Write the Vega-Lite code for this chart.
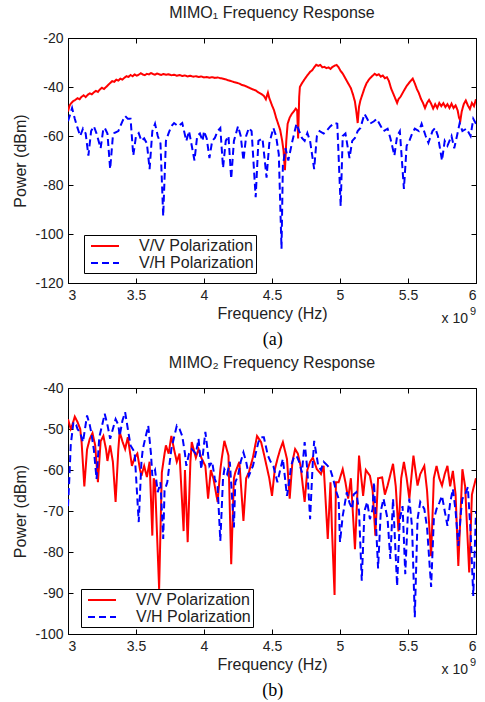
{
"$schema": "https://vega.github.io/schema/vega-lite/v6.json",
"background": "white",
"padding": {"left": 12, "top": 4, "right": 2, "bottom": 2},
"spacing": 5,
"config": {
  "font": "Liberation Sans",
  "view": {"stroke": "black", "strokeWidth": 1},
  "axis": {"grid": false, "domainColor": "black", "tickColor": "black", "tickSize": -5, "labelPadding": 10, "labelFont": "Liberation Sans", "labelFontSize": 14, "labelColor": "#222", "titleFont": "Liberation Sans", "titleFontSize": 16, "titleFontWeight": "normal", "titleColor": "#222", "titlePadding": 6},
  "axisX": {"titlePadding": 3},
  "title": {"font": "Liberation Sans", "fontSize": 16, "fontWeight": "normal", "color": "#222"},
  "legend": {"strokeColor": "black", "fillColor": "white", "padding": 2, "labelFont": "Liberation Sans", "labelFontSize": 16, "labelColor": "#222", "symbolType": "M-1.75,0H1.75", "symbolSize": 256, "symbolStrokeWidth": 2, "symbolOffset": 10, "labelOffset": 25, "rowPadding": -1, "labelExpr": "datum.label + '   '"}
},
"resolve": {"scale": {"color": "independent", "strokeDash": "independent"}, "legend": {"color": "independent", "strokeDash": "independent"}},
"datasets": {
"a": [
{"s":"V/V Polarization","f":3.000,"y":-50.0},{"s":"V/V Polarization","f":3.012,"y":-47.5},{"s":"V/V Polarization","f":3.025,"y":-46.5},{"s":"V/V Polarization","f":3.04,"y":-45.7},{"s":"V/V Polarization","f":3.055,"y":-45.2},{"s":"V/V Polarization","f":3.07,"y":-44.6},{"s":"V/V Polarization","f":3.085,"y":-45.0},{"s":"V/V Polarization","f":3.10,"y":-44.0},{"s":"V/V Polarization","f":3.115,"y":-43.4},{"s":"V/V Polarization","f":3.13,"y":-44.1},{"s":"V/V Polarization","f":3.145,"y":-43.2},{"s":"V/V Polarization","f":3.16,"y":-42.6},{"s":"V/V Polarization","f":3.175,"y":-43.0},{"s":"V/V Polarization","f":3.19,"y":-42.2},{"s":"V/V Polarization","f":3.205,"y":-41.6},{"s":"V/V Polarization","f":3.22,"y":-42.0},{"s":"V/V Polarization","f":3.235,"y":-41.0},{"s":"V/V Polarization","f":3.25,"y":-40.3},{"s":"V/V Polarization","f":3.265,"y":-40.8},{"s":"V/V Polarization","f":3.28,"y":-40.0},{"s":"V/V Polarization","f":3.295,"y":-39.2},{"s":"V/V Polarization","f":3.31,"y":-38.4},{"s":"V/V Polarization","f":3.325,"y":-37.6},{"s":"V/V Polarization","f":3.34,"y":-37.9},{"s":"V/V Polarization","f":3.355,"y":-37.0},{"s":"V/V Polarization","f":3.37,"y":-37.4},{"s":"V/V Polarization","f":3.385,"y":-36.6},{"s":"V/V Polarization","f":3.40,"y":-37.0},{"s":"V/V Polarization","f":3.415,"y":-36.2},{"s":"V/V Polarization","f":3.43,"y":-35.6},{"s":"V/V Polarization","f":3.445,"y":-35.9},{"s":"V/V Polarization","f":3.46,"y":-35.1},{"s":"V/V Polarization","f":3.475,"y":-35.6},{"s":"V/V Polarization","f":3.49,"y":-34.9},{"s":"V/V Polarization","f":3.505,"y":-35.4},{"s":"V/V Polarization","f":3.52,"y":-35.0},{"s":"V/V Polarization","f":3.535,"y":-34.4},{"s":"V/V Polarization","f":3.55,"y":-34.9},{"s":"V/V Polarization","f":3.565,"y":-35.2},{"s":"V/V Polarization","f":3.58,"y":-34.6},{"s":"V/V Polarization","f":3.595,"y":-34.9},{"s":"V/V Polarization","f":3.61,"y":-34.3},{"s":"V/V Polarization","f":3.625,"y":-34.7},{"s":"V/V Polarization","f":3.64,"y":-35.0},{"s":"V/V Polarization","f":3.655,"y":-34.5},{"s":"V/V Polarization","f":3.67,"y":-34.8},{"s":"V/V Polarization","f":3.685,"y":-35.1},{"s":"V/V Polarization","f":3.70,"y":-34.7},{"s":"V/V Polarization","f":3.72,"y":-35.0},{"s":"V/V Polarization","f":3.74,"y":-34.8},{"s":"V/V Polarization","f":3.76,"y":-35.2},{"s":"V/V Polarization","f":3.78,"y":-35.0},{"s":"V/V Polarization","f":3.80,"y":-35.4},{"s":"V/V Polarization","f":3.82,"y":-35.1},{"s":"V/V Polarization","f":3.84,"y":-35.5},{"s":"V/V Polarization","f":3.86,"y":-35.3},{"s":"V/V Polarization","f":3.88,"y":-35.7},{"s":"V/V Polarization","f":3.90,"y":-35.4},{"s":"V/V Polarization","f":3.92,"y":-35.8},{"s":"V/V Polarization","f":3.94,"y":-35.6},{"s":"V/V Polarization","f":3.96,"y":-35.9},{"s":"V/V Polarization","f":3.98,"y":-35.7},{"s":"V/V Polarization","f":4.00,"y":-36.1},{"s":"V/V Polarization","f":4.02,"y":-35.9},{"s":"V/V Polarization","f":4.04,"y":-36.2},{"s":"V/V Polarization","f":4.06,"y":-36.0},{"s":"V/V Polarization","f":4.08,"y":-36.3},{"s":"V/V Polarization","f":4.10,"y":-36.1},{"s":"V/V Polarization","f":4.12,"y":-36.4},{"s":"V/V Polarization","f":4.14,"y":-36.6},{"s":"V/V Polarization","f":4.16,"y":-36.9},{"s":"V/V Polarization","f":4.18,"y":-37.3},{"s":"V/V Polarization","f":4.20,"y":-37.6},{"s":"V/V Polarization","f":4.22,"y":-38.0},{"s":"V/V Polarization","f":4.24,"y":-38.3},{"s":"V/V Polarization","f":4.26,"y":-38.6},{"s":"V/V Polarization","f":4.28,"y":-39.2},{"s":"V/V Polarization","f":4.30,"y":-39.5},{"s":"V/V Polarization","f":4.32,"y":-40.0},{"s":"V/V Polarization","f":4.34,"y":-40.5},{"s":"V/V Polarization","f":4.36,"y":-41.0},{"s":"V/V Polarization","f":4.38,"y":-41.4},{"s":"V/V Polarization","f":4.40,"y":-42.2},{"s":"V/V Polarization","f":4.42,"y":-42.8},{"s":"V/V Polarization","f":4.44,"y":-43.6},{"s":"V/V Polarization","f":4.455,"y":-45.0},{"s":"V/V Polarization","f":4.47,"y":-42.3},{"s":"V/V Polarization","f":4.48,"y":-44.5},{"s":"V/V Polarization","f":4.49,"y":-46.0},{"s":"V/V Polarization","f":4.50,"y":-47.5},{"s":"V/V Polarization","f":4.515,"y":-49.5},{"s":"V/V Polarization","f":4.53,"y":-52.5},{"s":"V/V Polarization","f":4.545,"y":-55.0},{"s":"V/V Polarization","f":4.56,"y":-57.5},{"s":"V/V Polarization","f":4.575,"y":-62.0},{"s":"V/V Polarization","f":4.585,"y":-66.0},{"s":"V/V Polarization","f":4.595,"y":-74.0},{"s":"V/V Polarization","f":4.605,"y":-62.0},{"s":"V/V Polarization","f":4.615,"y":-55.0},{"s":"V/V Polarization","f":4.63,"y":-52.5},{"s":"V/V Polarization","f":4.645,"y":-51.0},{"s":"V/V Polarization","f":4.66,"y":-50.0},{"s":"V/V Polarization","f":4.675,"y":-48.8},{"s":"V/V Polarization","f":4.685,"y":-49.5},{"s":"V/V Polarization","f":4.692,"y":-61.0},{"s":"V/V Polarization","f":4.70,"y":-44.0},{"s":"V/V Polarization","f":4.705,"y":-40.0},{"s":"V/V Polarization","f":4.72,"y":-38.5},{"s":"V/V Polarization","f":4.735,"y":-37.2},{"s":"V/V Polarization","f":4.75,"y":-36.0},{"s":"V/V Polarization","f":4.765,"y":-34.9},{"s":"V/V Polarization","f":4.78,"y":-33.8},{"s":"V/V Polarization","f":4.795,"y":-33.2},{"s":"V/V Polarization","f":4.81,"y":-32.0},{"s":"V/V Polarization","f":4.825,"y":-30.9},{"s":"V/V Polarization","f":4.84,"y":-31.4},{"s":"V/V Polarization","f":4.855,"y":-31.0},{"s":"V/V Polarization","f":4.87,"y":-32.0},{"s":"V/V Polarization","f":4.885,"y":-31.8},{"s":"V/V Polarization","f":4.90,"y":-32.3},{"s":"V/V Polarization","f":4.915,"y":-32.0},{"s":"V/V Polarization","f":4.93,"y":-32.6},{"s":"V/V Polarization","f":4.945,"y":-31.8},{"s":"V/V Polarization","f":4.96,"y":-31.3},{"s":"V/V Polarization","f":4.975,"y":-31.0},{"s":"V/V Polarization","f":4.99,"y":-32.0},{"s":"V/V Polarization","f":5.005,"y":-33.5},{"s":"V/V Polarization","f":5.02,"y":-34.5},{"s":"V/V Polarization","f":5.035,"y":-36.0},{"s":"V/V Polarization","f":5.05,"y":-37.5},{"s":"V/V Polarization","f":5.065,"y":-39.0},{"s":"V/V Polarization","f":5.08,"y":-40.5},{"s":"V/V Polarization","f":5.095,"y":-43.0},{"s":"V/V Polarization","f":5.11,"y":-46.0},{"s":"V/V Polarization","f":5.12,"y":-50.0},{"s":"V/V Polarization","f":5.13,"y":-54.7},{"s":"V/V Polarization","f":5.14,"y":-48.0},{"s":"V/V Polarization","f":5.15,"y":-45.5},{"s":"V/V Polarization","f":5.165,"y":-43.0},{"s":"V/V Polarization","f":5.18,"y":-40.5},{"s":"V/V Polarization","f":5.195,"y":-38.5},{"s":"V/V Polarization","f":5.21,"y":-37.2},{"s":"V/V Polarization","f":5.225,"y":-36.2},{"s":"V/V Polarization","f":5.24,"y":-35.4},{"s":"V/V Polarization","f":5.255,"y":-34.6},{"s":"V/V Polarization","f":5.27,"y":-35.2},{"s":"V/V Polarization","f":5.285,"y":-34.8},{"s":"V/V Polarization","f":5.30,"y":-35.8},{"s":"V/V Polarization","f":5.315,"y":-35.3},{"s":"V/V Polarization","f":5.33,"y":-36.4},{"s":"V/V Polarization","f":5.345,"y":-36.0},{"s":"V/V Polarization","f":5.36,"y":-37.6},{"s":"V/V Polarization","f":5.375,"y":-40.5},{"s":"V/V Polarization","f":5.39,"y":-42.5},{"s":"V/V Polarization","f":5.405,"y":-44.5},{"s":"V/V Polarization","f":5.42,"y":-46.5},{"s":"V/V Polarization","f":5.43,"y":-45.0},{"s":"V/V Polarization","f":5.445,"y":-44.0},{"s":"V/V Polarization","f":5.46,"y":-42.5},{"s":"V/V Polarization","f":5.475,"y":-41.0},{"s":"V/V Polarization","f":5.49,"y":-39.6},{"s":"V/V Polarization","f":5.505,"y":-38.5},{"s":"V/V Polarization","f":5.52,"y":-37.5},{"s":"V/V Polarization","f":5.535,"y":-36.6},{"s":"V/V Polarization","f":5.55,"y":-38.5},{"s":"V/V Polarization","f":5.565,"y":-40.8},{"s":"V/V Polarization","f":5.58,"y":-42.5},{"s":"V/V Polarization","f":5.595,"y":-44.8},{"s":"V/V Polarization","f":5.61,"y":-46.5},{"s":"V/V Polarization","f":5.625,"y":-48.6},{"s":"V/V Polarization","f":5.64,"y":-46.5},{"s":"V/V Polarization","f":5.655,"y":-45.3},{"s":"V/V Polarization","f":5.67,"y":-46.8},{"s":"V/V Polarization","f":5.685,"y":-48.8},{"s":"V/V Polarization","f":5.70,"y":-47.0},{"s":"V/V Polarization","f":5.715,"y":-48.6},{"s":"V/V Polarization","f":5.73,"y":-46.5},{"s":"V/V Polarization","f":5.745,"y":-47.8},{"s":"V/V Polarization","f":5.76,"y":-46.6},{"s":"V/V Polarization","f":5.775,"y":-48.2},{"s":"V/V Polarization","f":5.79,"y":-47.0},{"s":"V/V Polarization","f":5.805,"y":-48.6},{"s":"V/V Polarization","f":5.82,"y":-46.8},{"s":"V/V Polarization","f":5.835,"y":-48.6},{"s":"V/V Polarization","f":5.85,"y":-47.5},{"s":"V/V Polarization","f":5.865,"y":-49.5},{"s":"V/V Polarization","f":5.875,"y":-52.5},{"s":"V/V Polarization","f":5.885,"y":-53.7},{"s":"V/V Polarization","f":5.895,"y":-50.0},{"s":"V/V Polarization","f":5.91,"y":-47.0},{"s":"V/V Polarization","f":5.925,"y":-45.5},{"s":"V/V Polarization","f":5.94,"y":-47.5},{"s":"V/V Polarization","f":5.955,"y":-49.0},{"s":"V/V Polarization","f":5.97,"y":-46.5},{"s":"V/V Polarization","f":5.985,"y":-47.8},{"s":"V/V Polarization","f":6.00,"y":-45.0},
{"s":"V/H Polarization","f":3.00,"y":-54},{"s":"V/H Polarization","f":3.03,"y":-48.6},{"s":"V/H Polarization","f":3.05,"y":-53},{"s":"V/H Polarization","f":3.07,"y":-56.7},{"s":"V/H Polarization","f":3.09,"y":-60},{"s":"V/H Polarization","f":3.11,"y":-57},{"s":"V/H Polarization","f":3.13,"y":-59},{"s":"V/H Polarization","f":3.15,"y":-68},{"s":"V/H Polarization","f":3.17,"y":-58},{"s":"V/H Polarization","f":3.19,"y":-56},{"s":"V/H Polarization","f":3.21,"y":-59},{"s":"V/H Polarization","f":3.24,"y":-65},{"s":"V/H Polarization","f":3.26,"y":-57},{"s":"V/H Polarization","f":3.27,"y":-56.7},{"s":"V/H Polarization","f":3.29,"y":-59},{"s":"V/H Polarization","f":3.31,"y":-73.5},{"s":"V/H Polarization","f":3.33,"y":-60},{"s":"V/H Polarization","f":3.34,"y":-58.8},{"s":"V/H Polarization","f":3.37,"y":-58},{"s":"V/H Polarization","f":3.40,"y":-54},{"s":"V/H Polarization","f":3.42,"y":-51.8},{"s":"V/H Polarization","f":3.44,"y":-53},{"s":"V/H Polarization","f":3.46,"y":-53},{"s":"V/H Polarization","f":3.48,"y":-68},{"s":"V/H Polarization","f":3.50,"y":-60},{"s":"V/H Polarization","f":3.52,"y":-58.8},{"s":"V/H Polarization","f":3.54,"y":-62},{"s":"V/H Polarization","f":3.56,"y":-61},{"s":"V/H Polarization","f":3.58,"y":-63},{"s":"V/H Polarization","f":3.60,"y":-73.5},{"s":"V/H Polarization","f":3.62,"y":-58},{"s":"V/H Polarization","f":3.64,"y":-55},{"s":"V/H Polarization","f":3.66,"y":-60},{"s":"V/H Polarization","f":3.68,"y":-63},{"s":"V/H Polarization","f":3.70,"y":-92.7},{"s":"V/H Polarization","f":3.72,"y":-62},{"s":"V/H Polarization","f":3.74,"y":-58.8},{"s":"V/H Polarization","f":3.76,"y":-56},{"s":"V/H Polarization","f":3.78,"y":-54.7},{"s":"V/H Polarization","f":3.81,"y":-56},{"s":"V/H Polarization","f":3.84,"y":-54.7},{"s":"V/H Polarization","f":3.87,"y":-62},{"s":"V/H Polarization","f":3.89,"y":-58},{"s":"V/H Polarization","f":3.91,"y":-64},{"s":"V/H Polarization","f":3.93,"y":-70},{"s":"V/H Polarization","f":3.95,"y":-60},{"s":"V/H Polarization","f":3.97,"y":-59},{"s":"V/H Polarization","f":3.99,"y":-62},{"s":"V/H Polarization","f":4.00,"y":-58},{"s":"V/H Polarization","f":4.02,"y":-61},{"s":"V/H Polarization","f":4.04,"y":-69},{"s":"V/H Polarization","f":4.06,"y":-62},{"s":"V/H Polarization","f":4.08,"y":-60.8},{"s":"V/H Polarization","f":4.10,"y":-58},{"s":"V/H Polarization","f":4.12,"y":-56.7},{"s":"V/H Polarization","f":4.14,"y":-73},{"s":"V/H Polarization","f":4.16,"y":-62},{"s":"V/H Polarization","f":4.18,"y":-60},{"s":"V/H Polarization","f":4.20,"y":-77.5},{"s":"V/H Polarization","f":4.22,"y":-62},{"s":"V/H Polarization","f":4.25,"y":-56},{"s":"V/H Polarization","f":4.27,"y":-60},{"s":"V/H Polarization","f":4.29,"y":-70},{"s":"V/H Polarization","f":4.31,"y":-60},{"s":"V/H Polarization","f":4.33,"y":-56.7},{"s":"V/H Polarization","f":4.35,"y":-58},{"s":"V/H Polarization","f":4.38,"y":-85},{"s":"V/H Polarization","f":4.40,"y":-62},{"s":"V/H Polarization","f":4.43,"y":-61},{"s":"V/H Polarization","f":4.46,"y":-77},{"s":"V/H Polarization","f":4.48,"y":-63},{"s":"V/H Polarization","f":4.51,"y":-56.7},{"s":"V/H Polarization","f":4.53,"y":-60},{"s":"V/H Polarization","f":4.55,"y":-67.5},{"s":"V/H Polarization","f":4.57,"y":-106},{"s":"V/H Polarization","f":4.58,"y":-72},{"s":"V/H Polarization","f":4.60,"y":-65},{"s":"V/H Polarization","f":4.62,"y":-70},{"s":"V/H Polarization","f":4.65,"y":-62},{"s":"V/H Polarization","f":4.68,"y":-55},{"s":"V/H Polarization","f":4.70,"y":-58},{"s":"V/H Polarization","f":4.72,"y":-60.8},{"s":"V/H Polarization","f":4.74,"y":-62},{"s":"V/H Polarization","f":4.76,"y":-58.8},{"s":"V/H Polarization","f":4.78,"y":-62},{"s":"V/H Polarization","f":4.81,"y":-73.5},{"s":"V/H Polarization","f":4.83,"y":-60},{"s":"V/H Polarization","f":4.85,"y":-58},{"s":"V/H Polarization","f":4.88,"y":-59},{"s":"V/H Polarization","f":4.90,"y":-58},{"s":"V/H Polarization","f":4.93,"y":-56},{"s":"V/H Polarization","f":4.96,"y":-54.7},{"s":"V/H Polarization","f":4.98,"y":-55},{"s":"V/H Polarization","f":5.005,"y":-88.6},{"s":"V/H Polarization","f":5.02,"y":-60},{"s":"V/H Polarization","f":5.04,"y":-59},{"s":"V/H Polarization","f":5.07,"y":-69},{"s":"V/H Polarization","f":5.09,"y":-62},{"s":"V/H Polarization","f":5.11,"y":-60.8},{"s":"V/H Polarization","f":5.13,"y":-58},{"s":"V/H Polarization","f":5.15,"y":-56.7},{"s":"V/H Polarization","f":5.18,"y":-51},{"s":"V/H Polarization","f":5.20,"y":-53},{"s":"V/H Polarization","f":5.22,"y":-55},{"s":"V/H Polarization","f":5.25,"y":-54},{"s":"V/H Polarization","f":5.27,"y":-53},{"s":"V/H Polarization","f":5.30,"y":-56},{"s":"V/H Polarization","f":5.32,"y":-58},{"s":"V/H Polarization","f":5.35,"y":-57},{"s":"V/H Polarization","f":5.37,"y":-60.8},{"s":"V/H Polarization","f":5.40,"y":-68},{"s":"V/H Polarization","f":5.42,"y":-60},{"s":"V/H Polarization","f":5.44,"y":-58},{"s":"V/H Polarization","f":5.47,"y":-81.6},{"s":"V/H Polarization","f":5.49,"y":-64},{"s":"V/H Polarization","f":5.51,"y":-62},{"s":"V/H Polarization","f":5.53,"y":-59},{"s":"V/H Polarization","f":5.55,"y":-57},{"s":"V/H Polarization","f":5.58,"y":-58},{"s":"V/H Polarization","f":5.60,"y":-55},{"s":"V/H Polarization","f":5.63,"y":-60},{"s":"V/H Polarization","f":5.65,"y":-62.8},{"s":"V/H Polarization","f":5.68,"y":-58},{"s":"V/H Polarization","f":5.70,"y":-56.7},{"s":"V/H Polarization","f":5.72,"y":-60},{"s":"V/H Polarization","f":5.75,"y":-70},{"s":"V/H Polarization","f":5.77,"y":-62},{"s":"V/H Polarization","f":5.79,"y":-64},{"s":"V/H Polarization","f":5.82,"y":-60},{"s":"V/H Polarization","f":5.84,"y":-65},{"s":"V/H Polarization","f":5.86,"y":-60},{"s":"V/H Polarization","f":5.88,"y":-54.7},{"s":"V/H Polarization","f":5.90,"y":-58},{"s":"V/H Polarization","f":5.93,"y":-57},{"s":"V/H Polarization","f":5.96,"y":-60},{"s":"V/H Polarization","f":5.98,"y":-53},{"s":"V/H Polarization","f":6.00,"y":-55}
],
"b": [
{"s":"V/V Polarization","f":3.00,"y":-47.6},{"s":"V/V Polarization","f":3.02,"y":-50},{"s":"V/V Polarization","f":3.03,"y":-49.2},{"s":"V/V Polarization","f":3.05,"y":-47},{"s":"V/V Polarization","f":3.07,"y":-48.3},{"s":"V/V Polarization","f":3.09,"y":-50},{"s":"V/V Polarization","f":3.10,"y":-53.2},{"s":"V/V Polarization","f":3.12,"y":-64},{"s":"V/V Polarization","f":3.14,"y":-55},{"s":"V/V Polarization","f":3.16,"y":-52.4},{"s":"V/V Polarization","f":3.18,"y":-51},{"s":"V/V Polarization","f":3.20,"y":-54},{"s":"V/V Polarization","f":3.22,"y":-63},{"s":"V/V Polarization","f":3.24,"y":-53},{"s":"V/V Polarization","f":3.26,"y":-51.7},{"s":"V/V Polarization","f":3.28,"y":-55},{"s":"V/V Polarization","f":3.29,"y":-57.8},{"s":"V/V Polarization","f":3.31,"y":-54},{"s":"V/V Polarization","f":3.33,"y":-58},{"s":"V/V Polarization","f":3.35,"y":-67.8},{"s":"V/V Polarization","f":3.37,"y":-55},{"s":"V/V Polarization","f":3.38,"y":-50.7},{"s":"V/V Polarization","f":3.40,"y":-53},{"s":"V/V Polarization","f":3.42,"y":-54.9},{"s":"V/V Polarization","f":3.44,"y":-52},{"s":"V/V Polarization","f":3.47,"y":-59},{"s":"V/V Polarization","f":3.49,"y":-57},{"s":"V/V Polarization","f":3.51,"y":-56},{"s":"V/V Polarization","f":3.53,"y":-60},{"s":"V/V Polarization","f":3.54,"y":-61.4},{"s":"V/V Polarization","f":3.56,"y":-59},{"s":"V/V Polarization","f":3.58,"y":-61.7},{"s":"V/V Polarization","f":3.60,"y":-58},{"s":"V/V Polarization","f":3.62,"y":-76},{"s":"V/V Polarization","f":3.63,"y":-62},{"s":"V/V Polarization","f":3.64,"y":-63},{"s":"V/V Polarization","f":3.67,"y":-89},{"s":"V/V Polarization","f":3.69,"y":-60.6},{"s":"V/V Polarization","f":3.71,"y":-56},{"s":"V/V Polarization","f":3.72,"y":-54},{"s":"V/V Polarization","f":3.74,"y":-56},{"s":"V/V Polarization","f":3.76,"y":-51.7},{"s":"V/V Polarization","f":3.78,"y":-55},{"s":"V/V Polarization","f":3.80,"y":-58},{"s":"V/V Polarization","f":3.82,"y":-56},{"s":"V/V Polarization","f":3.85,"y":-74.9},{"s":"V/V Polarization","f":3.86,"y":-60},{"s":"V/V Polarization","f":3.88,"y":-77.6},{"s":"V/V Polarization","f":3.90,"y":-58},{"s":"V/V Polarization","f":3.91,"y":-53.2},{"s":"V/V Polarization","f":3.94,"y":-57},{"s":"V/V Polarization","f":3.96,"y":-54.9},{"s":"V/V Polarization","f":3.98,"y":-57},{"s":"V/V Polarization","f":4.01,"y":-59},{"s":"V/V Polarization","f":4.03,"y":-67},{"s":"V/V Polarization","f":4.05,"y":-60},{"s":"V/V Polarization","f":4.07,"y":-62.2},{"s":"V/V Polarization","f":4.10,"y":-67.8},{"s":"V/V Polarization","f":4.12,"y":-60},{"s":"V/V Polarization","f":4.13,"y":-57.3},{"s":"V/V Polarization","f":4.15,"y":-52.9},{"s":"V/V Polarization","f":4.18,"y":-56.5},{"s":"V/V Polarization","f":4.20,"y":-83},{"s":"V/V Polarization","f":4.22,"y":-62},{"s":"V/V Polarization","f":4.23,"y":-60.6},{"s":"V/V Polarization","f":4.26,"y":-58},{"s":"V/V Polarization","f":4.29,"y":-72.4},{"s":"V/V Polarization","f":4.31,"y":-62},{"s":"V/V Polarization","f":4.33,"y":-60.6},{"s":"V/V Polarization","f":4.36,"y":-56.9},{"s":"V/V Polarization","f":4.39,"y":-51.7},{"s":"V/V Polarization","f":4.42,"y":-53.2},{"s":"V/V Polarization","f":4.44,"y":-56},{"s":"V/V Polarization","f":4.46,"y":-59},{"s":"V/V Polarization","f":4.48,"y":-62},{"s":"V/V Polarization","f":4.50,"y":-66.3},{"s":"V/V Polarization","f":4.52,"y":-60},{"s":"V/V Polarization","f":4.54,"y":-57.3},{"s":"V/V Polarization","f":4.56,"y":-55},{"s":"V/V Polarization","f":4.58,"y":-53.2},{"s":"V/V Polarization","f":4.61,"y":-57.3},{"s":"V/V Polarization","f":4.63,"y":-67},{"s":"V/V Polarization","f":4.65,"y":-58},{"s":"V/V Polarization","f":4.67,"y":-54.9},{"s":"V/V Polarization","f":4.69,"y":-56},{"s":"V/V Polarization","f":4.71,"y":-59},{"s":"V/V Polarization","f":4.74,"y":-67.8},{"s":"V/V Polarization","f":4.76,"y":-60},{"s":"V/V Polarization","f":4.78,"y":-58},{"s":"V/V Polarization","f":4.80,"y":-57},{"s":"V/V Polarization","f":4.83,"y":-59.8},{"s":"V/V Polarization","f":4.86,"y":-61},{"s":"V/V Polarization","f":4.88,"y":-59},{"s":"V/V Polarization","f":4.91,"y":-76.8},{"s":"V/V Polarization","f":4.93,"y":-63},{"s":"V/V Polarization","f":4.94,"y":-73.6},{"s":"V/V Polarization","f":4.96,"y":-90.5},{"s":"V/V Polarization","f":4.97,"y":-63},{"s":"V/V Polarization","f":4.99,"y":-63},{"s":"V/V Polarization","f":5.02,"y":-59.8},{"s":"V/V Polarization","f":5.04,"y":-63},{"s":"V/V Polarization","f":5.06,"y":-67},{"s":"V/V Polarization","f":5.08,"y":-62},{"s":"V/V Polarization","f":5.11,"y":-79.3},{"s":"V/V Polarization","f":5.14,"y":-56.5},{"s":"V/V Polarization","f":5.17,"y":-66.3},{"s":"V/V Polarization","f":5.19,"y":-60},{"s":"V/V Polarization","f":5.22,"y":-61.4},{"s":"V/V Polarization","f":5.24,"y":-65},{"s":"V/V Polarization","f":5.26,"y":-76},{"s":"V/V Polarization","f":5.28,"y":-62},{"s":"V/V Polarization","f":5.31,"y":-61.8},{"s":"V/V Polarization","f":5.33,"y":-66},{"s":"V/V Polarization","f":5.35,"y":-63.8},{"s":"V/V Polarization","f":5.39,"y":-58.5},{"s":"V/V Polarization","f":5.41,"y":-64},{"s":"V/V Polarization","f":5.43,"y":-75},{"s":"V/V Polarization","f":5.45,"y":-62},{"s":"V/V Polarization","f":5.47,"y":-58},{"s":"V/V Polarization","f":5.49,"y":-62},{"s":"V/V Polarization","f":5.51,"y":-67},{"s":"V/V Polarization","f":5.54,"y":-56.5},{"s":"V/V Polarization","f":5.57,"y":-63.8},{"s":"V/V Polarization","f":5.59,"y":-61},{"s":"V/V Polarization","f":5.62,"y":-59},{"s":"V/V Polarization","f":5.64,"y":-65},{"s":"V/V Polarization","f":5.67,"y":-81},{"s":"V/V Polarization","f":5.69,"y":-62},{"s":"V/V Polarization","f":5.71,"y":-59},{"s":"V/V Polarization","f":5.73,"y":-62},{"s":"V/V Polarization","f":5.75,"y":-63.8},{"s":"V/V Polarization","f":5.77,"y":-61},{"s":"V/V Polarization","f":5.79,"y":-59},{"s":"V/V Polarization","f":5.81,"y":-64},{"s":"V/V Polarization","f":5.83,"y":-60.2},{"s":"V/V Polarization","f":5.85,"y":-66},{"s":"V/V Polarization","f":5.87,"y":-83.4},{"s":"V/V Polarization","f":5.90,"y":-59.8},{"s":"V/V Polarization","f":5.92,"y":-64},{"s":"V/V Polarization","f":5.95,"y":-85},{"s":"V/V Polarization","f":5.97,"y":-66},{"s":"V/V Polarization","f":5.98,"y":-64.6},{"s":"V/V Polarization","f":6.00,"y":-62},
{"s":"V/H Polarization","f":3.00,"y":-68.8},{"s":"V/H Polarization","f":3.01,"y":-62},{"s":"V/H Polarization","f":3.02,"y":-54},{"s":"V/H Polarization","f":3.04,"y":-48.3},{"s":"V/H Polarization","f":3.06,"y":-49},{"s":"V/H Polarization","f":3.07,"y":-50},{"s":"V/H Polarization","f":3.09,"y":-51},{"s":"V/H Polarization","f":3.11,"y":-53.2},{"s":"V/H Polarization","f":3.14,"y":-46.7},{"s":"V/H Polarization","f":3.16,"y":-49},{"s":"V/H Polarization","f":3.17,"y":-50.7},{"s":"V/H Polarization","f":3.19,"y":-55},{"s":"V/H Polarization","f":3.21,"y":-62.2},{"s":"V/H Polarization","f":3.23,"y":-52},{"s":"V/H Polarization","f":3.25,"y":-49.2},{"s":"V/H Polarization","f":3.27,"y":-46.3},{"s":"V/H Polarization","f":3.29,"y":-49},{"s":"V/H Polarization","f":3.31,"y":-52.4},{"s":"V/H Polarization","f":3.33,"y":-50},{"s":"V/H Polarization","f":3.35,"y":-47.6},{"s":"V/H Polarization","f":3.37,"y":-49},{"s":"V/H Polarization","f":3.38,"y":-51.7},{"s":"V/H Polarization","f":3.40,"y":-48},{"s":"V/H Polarization","f":3.42,"y":-45.9},{"s":"V/H Polarization","f":3.44,"y":-50},{"s":"V/H Polarization","f":3.46,"y":-54},{"s":"V/H Polarization","f":3.49,"y":-55.7},{"s":"V/H Polarization","f":3.52,"y":-72.7},{"s":"V/H Polarization","f":3.54,"y":-58},{"s":"V/H Polarization","f":3.55,"y":-54.9},{"s":"V/H Polarization","f":3.57,"y":-52},{"s":"V/H Polarization","f":3.59,"y":-49.2},{"s":"V/H Polarization","f":3.61,"y":-56},{"s":"V/H Polarization","f":3.62,"y":-61.4},{"s":"V/H Polarization","f":3.64,"y":-60},{"s":"V/H Polarization","f":3.66,"y":-65.4},{"s":"V/H Polarization","f":3.68,"y":-63},{"s":"V/H Polarization","f":3.70,"y":-76.8},{"s":"V/H Polarization","f":3.71,"y":-65},{"s":"V/H Polarization","f":3.73,"y":-63},{"s":"V/H Polarization","f":3.76,"y":-54.9},{"s":"V/H Polarization","f":3.78,"y":-52},{"s":"V/H Polarization","f":3.80,"y":-49.2},{"s":"V/H Polarization","f":3.82,"y":-50},{"s":"V/H Polarization","f":3.84,"y":-51.7},{"s":"V/H Polarization","f":3.86,"y":-56},{"s":"V/H Polarization","f":3.87,"y":-59},{"s":"V/H Polarization","f":3.89,"y":-56},{"s":"V/H Polarization","f":3.91,"y":-54.9},{"s":"V/H Polarization","f":3.94,"y":-56},{"s":"V/H Polarization","f":3.96,"y":-52.4},{"s":"V/H Polarization","f":3.98,"y":-59.8},{"s":"V/H Polarization","f":4.01,"y":-50.7},{"s":"V/H Polarization","f":4.04,"y":-59},{"s":"V/H Polarization","f":4.06,"y":-58},{"s":"V/H Polarization","f":4.08,"y":-62.2},{"s":"V/H Polarization","f":4.10,"y":-64},{"s":"V/H Polarization","f":4.12,"y":-77.3},{"s":"V/H Polarization","f":4.14,"y":-62},{"s":"V/H Polarization","f":4.15,"y":-59.8},{"s":"V/H Polarization","f":4.17,"y":-61},{"s":"V/H Polarization","f":4.19,"y":-58},{"s":"V/H Polarization","f":4.22,"y":-74},{"s":"V/H Polarization","f":4.23,"y":-63},{"s":"V/H Polarization","f":4.25,"y":-61.4},{"s":"V/H Polarization","f":4.27,"y":-58},{"s":"V/H Polarization","f":4.29,"y":-55.7},{"s":"V/H Polarization","f":4.31,"y":-58},{"s":"V/H Polarization","f":4.33,"y":-61.4},{"s":"V/H Polarization","f":4.36,"y":-59},{"s":"V/H Polarization","f":4.38,"y":-56},{"s":"V/H Polarization","f":4.40,"y":-53.2},{"s":"V/H Polarization","f":4.42,"y":-52},{"s":"V/H Polarization","f":4.44,"y":-52},{"s":"V/H Polarization","f":4.47,"y":-56.5},{"s":"V/H Polarization","f":4.49,"y":-58},{"s":"V/H Polarization","f":4.51,"y":-59},{"s":"V/H Polarization","f":4.54,"y":-63},{"s":"V/H Polarization","f":4.56,"y":-60},{"s":"V/H Polarization","f":4.58,"y":-57.3},{"s":"V/H Polarization","f":4.61,"y":-66.3},{"s":"V/H Polarization","f":4.63,"y":-62},{"s":"V/H Polarization","f":4.64,"y":-59},{"s":"V/H Polarization","f":4.66,"y":-57},{"s":"V/H Polarization","f":4.68,"y":-56.5},{"s":"V/H Polarization","f":4.70,"y":-58},{"s":"V/H Polarization","f":4.72,"y":-60.6},{"s":"V/H Polarization","f":4.74,"y":-53.2},{"s":"V/H Polarization","f":4.76,"y":-60},{"s":"V/H Polarization","f":4.78,"y":-72},{"s":"V/H Polarization","f":4.80,"y":-58},{"s":"V/H Polarization","f":4.81,"y":-52.9},{"s":"V/H Polarization","f":4.84,"y":-59},{"s":"V/H Polarization","f":4.86,"y":-60},{"s":"V/H Polarization","f":4.88,"y":-58},{"s":"V/H Polarization","f":4.91,"y":-59},{"s":"V/H Polarization","f":4.93,"y":-60},{"s":"V/H Polarization","f":4.95,"y":-62.2},{"s":"V/H Polarization","f":4.97,"y":-65},{"s":"V/H Polarization","f":4.99,"y":-67},{"s":"V/H Polarization","f":5.00,"y":-77.6},{"s":"V/H Polarization","f":5.02,"y":-71.2},{"s":"V/H Polarization","f":5.05,"y":-65.4},{"s":"V/H Polarization","f":5.07,"y":-68},{"s":"V/H Polarization","f":5.09,"y":-69.5},{"s":"V/H Polarization","f":5.10,"y":-66},{"s":"V/H Polarization","f":5.12,"y":-65.4},{"s":"V/H Polarization","f":5.14,"y":-70},{"s":"V/H Polarization","f":5.16,"y":-87},{"s":"V/H Polarization","f":5.18,"y":-70},{"s":"V/H Polarization","f":5.20,"y":-67.8},{"s":"V/H Polarization","f":5.22,"y":-72},{"s":"V/H Polarization","f":5.24,"y":-69.5},{"s":"V/H Polarization","f":5.25,"y":-63},{"s":"V/H Polarization","f":5.28,"y":-84},{"s":"V/H Polarization","f":5.30,"y":-70},{"s":"V/H Polarization","f":5.32,"y":-67},{"s":"V/H Polarization","f":5.35,"y":-72},{"s":"V/H Polarization","f":5.37,"y":-81.7},{"s":"V/H Polarization","f":5.39,"y":-67},{"s":"V/H Polarization","f":5.42,"y":-88.3},{"s":"V/H Polarization","f":5.44,"y":-72},{"s":"V/H Polarization","f":5.46,"y":-68.8},{"s":"V/H Polarization","f":5.48,"y":-85.4},{"s":"V/H Polarization","f":5.50,"y":-70},{"s":"V/H Polarization","f":5.51,"y":-67},{"s":"V/H Polarization","f":5.53,"y":-74},{"s":"V/H Polarization","f":5.55,"y":-95.9},{"s":"V/H Polarization","f":5.57,"y":-72},{"s":"V/H Polarization","f":5.59,"y":-67.8},{"s":"V/H Polarization","f":5.62,"y":-69.5},{"s":"V/H Polarization","f":5.64,"y":-74},{"s":"V/H Polarization","f":5.67,"y":-88.5},{"s":"V/H Polarization","f":5.69,"y":-72},{"s":"V/H Polarization","f":5.71,"y":-69.5},{"s":"V/H Polarization","f":5.73,"y":-68},{"s":"V/H Polarization","f":5.75,"y":-66.3},{"s":"V/H Polarization","f":5.77,"y":-70},{"s":"V/H Polarization","f":5.79,"y":-73.6},{"s":"V/H Polarization","f":5.81,"y":-68},{"s":"V/H Polarization","f":5.83,"y":-64.6},{"s":"V/H Polarization","f":5.85,"y":-70},{"s":"V/H Polarization","f":5.87,"y":-78.5},{"s":"V/H Polarization","f":5.89,"y":-70},{"s":"V/H Polarization","f":5.90,"y":-67},{"s":"V/H Polarization","f":5.92,"y":-66},{"s":"V/H Polarization","f":5.94,"y":-64.2},{"s":"V/H Polarization","f":5.96,"y":-75},{"s":"V/H Polarization","f":5.98,"y":-90.7},{"s":"V/H Polarization","f":6.00,"y":-70}
]
},
"vconcat": [
{
  "title": {"text": "(a)", "orient": "bottom", "anchor": "middle", "dx": 27, "font": "Liberation Serif", "fontSize": 18, "color": "black", "offset": 4},
  "vconcat": [{
    "title": {"text": "MIMO₁ Frequency Response", "offset": 10},
    "width": 408, "height": 245,
    "data": {"name": "a"},
    "layer": [
      {"mark": {"type": "line", "strokeWidth": 2, "clip": true},
       "encoding": {
         "x": {"field": "f", "type": "quantitative", "scale": {"domain": [3, 6], "nice": false, "zero": false}, "axis": {"values": [3, 3.5, 4, 4.5, 5, 5.5, 6], "title": "Frequency (Hz)", "labelExpr": "toString(datum.value)"}},
         "y": {"field": "y", "type": "quantitative", "scale": {"domain": [-120, -20], "nice": false, "zero": false}, "axis": {"values": [-120, -100, -80, -60, -40, -20], "title": "Power (dBm)", "labelExpr": "toString(datum.value)"}},
         "color": {"field": "s", "type": "nominal", "scale": {"domain": ["V/V Polarization", "V/H Polarization"], "range": ["#ff0000", "#0000ff"]}, "legend": {"title": null, "orient": "none", "legendX": 16, "legendY": 197}},
         "strokeDash": {"field": "s", "type": "nominal", "scale": {"domain": ["V/V Polarization", "V/H Polarization"], "range": [[1, 0], [7, 4]]}, "legend": {"title": null, "orient": "none", "legendX": 16, "legendY": 197}}
       }},
      {"mark": {"type": "point", "opacity": 0},
       "encoding": {
         "x": {"field": "f", "type": "quantitative", "axis": {"orient": "top", "values": [3, 3.5, 4, 4.5, 5, 5.5, 6], "labels": false, "title": null, "domain": false}},
         "y": {"field": "y", "type": "quantitative", "axis": {"orient": "right", "values": [-120, -100, -80, -60, -40, -20], "labels": false, "title": null, "domain": false}}
       }},
      {"data": {"values": [{}]},
       "mark": {"type": "text", "align": "right", "baseline": "alphabetic", "dx": -8, "dy": 40, "fontSize": 14, "color": "#222"},
       "encoding": {"x": {"datum": 6, "axis": null}, "y": {"datum": -120, "axis": null}, "text": {"value": "x 10"}}},
      {"data": {"values": [{}]},
       "mark": {"type": "text", "align": "right", "baseline": "alphabetic", "dx": 0, "dy": 32, "fontSize": 11, "color": "#222"},
       "encoding": {"x": {"datum": 6, "axis": null}, "y": {"datum": -120, "axis": null}, "text": {"value": "9"}}}
    ],
    "resolve": {"axis": {"x": "independent", "y": "independent"}}
  }]
},
{
  "title": {"text": "(b)", "orient": "bottom", "anchor": "middle", "dx": 27, "font": "Liberation Serif", "fontSize": 18, "color": "black", "offset": 4},
  "vconcat": [{
    "title": {"text": "MIMO₂ Frequency Response", "offset": 10},
    "width": 408, "height": 246,
    "data": {"name": "b"},
    "layer": [
      {"mark": {"type": "line", "strokeWidth": 2, "clip": true},
       "encoding": {
         "x": {"field": "f", "type": "quantitative", "scale": {"domain": [3, 6], "nice": false, "zero": false}, "axis": {"values": [3, 3.5, 4, 4.5, 5, 5.5, 6], "title": "Frequency (Hz)", "labelExpr": "toString(datum.value)"}},
         "y": {"field": "y", "type": "quantitative", "scale": {"domain": [-100, -40], "nice": false, "zero": false}, "axis": {"values": [-100, -90, -80, -70, -60, -50, -40], "title": "Power (dBm)", "labelExpr": "toString(datum.value)"}},
         "color": {"field": "s", "type": "nominal", "scale": {"domain": ["V/V Polarization", "V/H Polarization"], "range": ["#ff0000", "#0000ff"]}, "legend": {"title": null, "orient": "none", "legendX": 13, "legendY": 201}},
         "strokeDash": {"field": "s", "type": "nominal", "scale": {"domain": ["V/V Polarization", "V/H Polarization"], "range": [[1, 0], [7, 4]]}, "legend": {"title": null, "orient": "none", "legendX": 13, "legendY": 201}}
       }},
      {"mark": {"type": "point", "opacity": 0},
       "encoding": {
         "x": {"field": "f", "type": "quantitative", "axis": {"orient": "top", "values": [3, 3.5, 4, 4.5, 5, 5.5, 6], "labels": false, "title": null, "domain": false}},
         "y": {"field": "y", "type": "quantitative", "axis": {"orient": "right", "values": [-100, -90, -80, -70, -60, -50, -40], "labels": false, "title": null, "domain": false}}
       }},
      {"data": {"values": [{}]},
       "mark": {"type": "text", "align": "right", "baseline": "alphabetic", "dx": -8, "dy": 40, "fontSize": 14, "color": "#222"},
       "encoding": {"x": {"datum": 6, "axis": null}, "y": {"datum": -100, "axis": null}, "text": {"value": "x 10"}}},
      {"data": {"values": [{}]},
       "mark": {"type": "text", "align": "right", "baseline": "alphabetic", "dx": 0, "dy": 32, "fontSize": 11, "color": "#222"},
       "encoding": {"x": {"datum": 6, "axis": null}, "y": {"datum": -100, "axis": null}, "text": {"value": "9"}}}
    ],
    "resolve": {"axis": {"x": "independent", "y": "independent"}}
  }]
}
]
}
